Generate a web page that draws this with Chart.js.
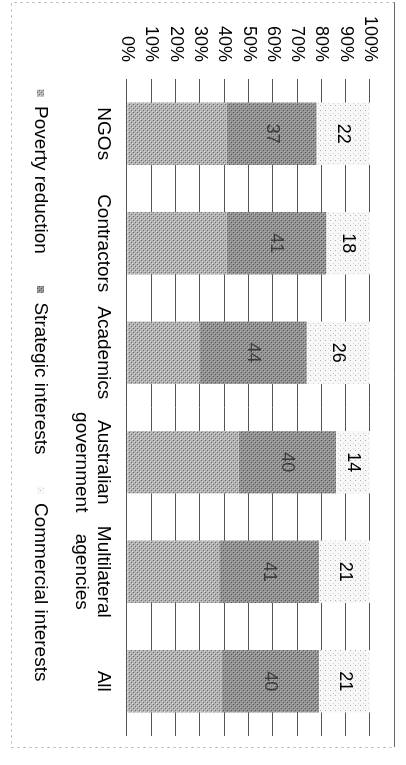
<!DOCTYPE html>
<html>
<head>
<meta charset="utf-8">
<title>Motives for aid</title>
<script src="https://cdn.jsdelivr.net/npm/chart.js@4/dist/chart.umd.min.js"></script>
<style>
  html, body { margin: 0; padding: 0; background: #fff; overflow: hidden; }
  /* the chart is printed sideways, so draw it flat and turn it a quarter clockwise */
  #wrap {
    position: absolute; left: 0; top: 0;
    width: 765px; height: 406px;
    transform-origin: 0 0;
    transform: translate(406px, 0) rotate(90deg);
  }
</style>
</head>
<body>
<div id="wrap"><canvas id="motivos" width="765" height="406"></canvas></div>
<script>
const categories = ["NGOs", "Contractors", "Academics", ["Australian", "government"], ["Multilateral", "agencies"], "All"];
const seriesNames = ["Poverty reduction", "Strategic interests", "Commercial interests"];
const poverty = [41, 41, 30, 46, 38, 39];
const strategic = [37, 41, 44, 40, 41, 40];
const commercial = [22, 18, 26, 14, 21, 21];

const FONT = "'Liberation Sans', Arial, sans-serif";

// small halftone-like tiles, to look a bit like the scanned print
const makeTile = (size, base, dots) => {
  const c = document.createElement("canvas");
  c.width = size;
  c.height = size;
  const g = c.getContext("2d");
  g.fillStyle = base;
  g.fillRect(0, 0, size, size);
  dots.forEach(([x, y, col]) => {
    g.fillStyle = col;
    g.fillRect(x, y, 1, 1);
  });
  return g.createPattern(c, "repeat");
};

const ctx = document.getElementById("motivos").getContext("2d");
const fillPoverty = makeTile(4, "#b2b2b2", [[0, 0, "#6e6e6e"], [2, 2, "#6e6e6e"], [1, 3, "#d6d6d6"], [3, 1, "#d6d6d6"]]);
const fillStrategic = makeTile(4, "#929292", [[0, 0, "#555"], [2, 2, "#555"], [1, 3, "#b4b4b4"], [3, 1, "#b4b4b4"]]);
const fillCommercial = makeTile(5, "#f7f7f7", [[0, 0, "#b0b0b0"], [3, 2, "#d2d2d2"]]);

// numbers inside the strategic and commercial parts of each bar
const valueLabels = {
  id: "valueLabels",
  afterDatasetsDraw(chart) {
    const c = chart.ctx;
    c.save();
    c.textAlign = "center";
    c.textBaseline = "middle";
    c.font = "18px " + FONT;
    [1, 2].forEach((di) => {
      const meta = chart.getDatasetMeta(di);
      c.fillStyle = di === 1 ? "#3c3c3c" : "#000";
      meta.data.forEach((bar, i) => {
        const v = chart.data.datasets[di].data[i];
        c.fillText(String(v), bar.x, (bar.y + bar.base) / 2);
      });
    });
    c.restore();
  },
};

// the legend sits a little higher and further left than chart.js puts it
const nudgeLegend = {
  id: "nudgeLegend",
  afterLayout(chart) {
    const lg = chart.legend;
    if (!lg) return;
    lg.top -= 15;
    lg.bottom -= 15;
    lg.left -= 22;
    lg.right -= 22;
  },
};

// the printed frame round the figure
const frame = {
  id: "frame",
  beforeDraw(chart) {
    const c = chart.ctx;
    c.save();
    c.lineWidth = 1;
    c.strokeStyle = "#666";
    c.beginPath();
    c.moveTo(2, 11.5);
    c.lineTo(747, 11.5);
    c.stroke();
    c.strokeStyle = "#aaa";
    c.setLineDash([2, 4]);
    c.beginPath();
    c.moveTo(2.5, 11.5);
    c.lineTo(2.5, 394.5);
    c.lineTo(747.5, 394.5);
    c.lineTo(747.5, 11.5);
    c.stroke();
    c.restore();
  },
};

new Chart(ctx, {
  type: "bar",
  data: {
    labels: categories,
    datasets: [
      { label: seriesNames[0], data: poverty, backgroundColor: fillPoverty, borderWidth: 0 },
      { label: seriesNames[1], data: strategic, backgroundColor: fillStrategic, borderWidth: 0 },
      { label: seriesNames[2], data: commercial, backgroundColor: fillCommercial, borderWidth: 0 },
    ],
  },
  options: {
    responsive: false,
    animation: false,
    devicePixelRatio: 1,
    layout: { padding: { left: 0, right: 29, top: 36, bottom: 6 } },
    datasets: { bar: { categoryPercentage: 1, barPercentage: 0.57 } },
    scales: {
      x: {
        stacked: true,
        grid: { display: false, drawTicks: false },
        border: { display: false },
        ticks: { color: "#000", font: { family: FONT, size: 19, lineHeight: 1.15 }, padding: 13, maxRotation: 0, autoSkip: false },
        afterFit: (s) => { s.height = 60; },
      },
      y: {
        stacked: true,
        min: 0,
        max: 100,
        grid: { color: "#555", lineWidth: 1, drawTicks: false },
        border: { display: false },
        ticks: {
          stepSize: 10,
          autoSkip: false,
          color: "#000",
          padding: 17,
          font: { family: FONT, size: 18 },
          callback: (v) => v + "%",
        },
        afterFit: (s) => { s.width = 79; },
      },
    },
    plugins: {
      legend: {
        position: "bottom",
        fullSize: false,
        labels: { color: "#000", boxWidth: 7, boxHeight: 7, padding: 32, font: { family: FONT, size: 19 } },
      },
      tooltip: { enabled: false },
    },
  },
  plugins: [frame, nudgeLegend, valueLabels],
});
</script>
</body>
</html>
